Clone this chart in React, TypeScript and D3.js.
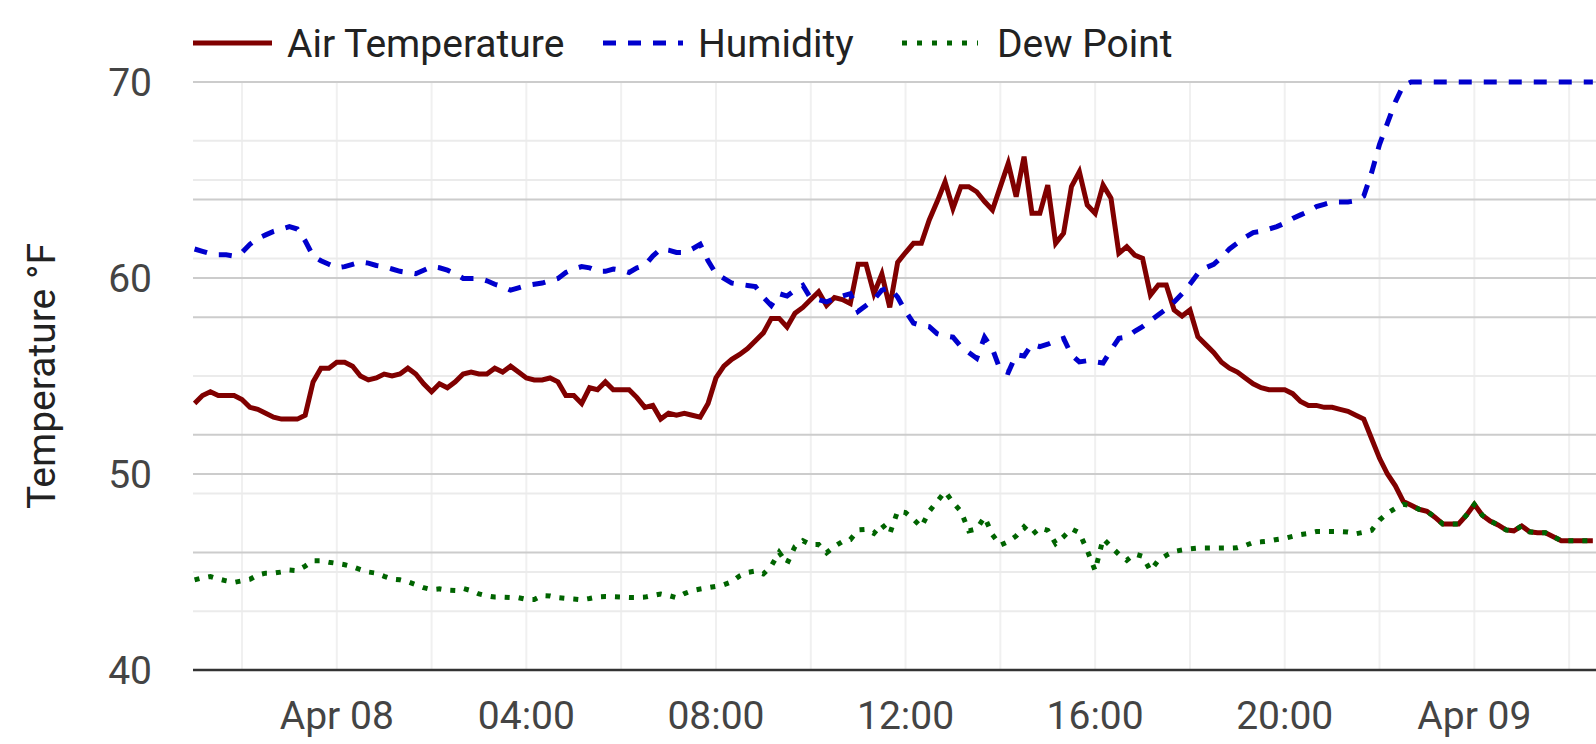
import React from 'react';
import * as d3 from 'd3';

// 10-minute observations starting Apr 7, 21:00
const startTime = new Date(2024, 3, 7, 21, 0);
const stepMinutes = 10;

const airTemp = [
  53.6, 54.0, 54.2, 54.0, 54.0, 54.0, 53.8, 53.4, 53.3, 53.1,
  52.9, 52.8, 52.8, 52.8, 53.0, 54.7, 55.4, 55.4, 55.7, 55.7,
  55.5, 55.0, 54.8, 54.9, 55.1, 55.0, 55.1, 55.4, 55.1, 54.6,
  54.2, 54.6, 54.4, 54.7, 55.1, 55.2, 55.1, 55.1, 55.4, 55.2,
  55.5, 55.2, 54.9, 54.8, 54.8, 54.9, 54.7, 54.0, 54.0, 53.6,
  54.4, 54.3, 54.7, 54.3, 54.3, 54.3, 53.9, 53.4, 53.5, 52.8,
  53.1, 53.0, 53.1, 53.0, 52.9, 53.6, 54.9, 55.5, 55.85, 56.1,
  56.4, 56.8, 57.2, 57.94, 57.94, 57.5, 58.2, 58.5, 58.9, 59.3,
  58.6, 59.0, 58.9, 58.7, 60.7, 60.7, 59.2, 60.2, 58.5, 60.8,
  61.3, 61.77, 61.77, 62.96, 63.9, 64.91, 63.55, 64.66, 64.66, 64.4,
  63.9, 63.47, 64.66, 65.85, 64.15, 66.19, 63.3, 63.3, 64.74, 61.77,
  62.28, 64.66, 65.42, 63.72, 63.3, 64.74, 64.07, 61.26, 61.6, 61.17,
  61.0, 59.13, 59.64, 59.64, 58.37, 58.06, 58.37, 57.0, 56.6, 56.2,
  55.7, 55.4, 55.2, 54.9, 54.6, 54.4, 54.3, 54.3, 54.3, 54.1,
  53.7, 53.5, 53.5, 53.4, 53.4, 53.3, 53.2, 53.0, 52.8, 51.8,
  50.8, 50.0, 49.4, 48.6, 48.4, 48.2, 48.1, 47.8, 47.45, 47.45,
  47.45, 47.9, 48.45, 47.9, 47.6, 47.4, 47.15, 47.1, 47.35, 47.05,
  47.0, 47.0, 46.8, 46.6, 46.6, 46.6, 46.6, 46.6,
];

const humidity = [
  85.8, 85.6, 85.4, 85.3, 85.3, 85.2, 85.5, 86.2, 86.7, 87.0,
  87.3, 87.5, 87.7, 87.5, 86.5, 85.2, 84.8, 84.5, 84.2, 84.3,
  84.5, 84.7, 84.6, 84.4, 84.3, 84.1, 83.9, 83.8, 83.7, 84.0,
  84.3, 84.2, 84.0, 83.7, 83.3, 83.3, 83.3, 83.1, 82.8, 82.6,
  82.3, 82.5, 82.7, 82.8, 82.9, 83.1, 83.3, 83.8, 84.1, 84.3,
  84.2, 83.9, 83.9, 84.1, 84.0, 83.8, 84.2, 84.4, 85.2, 85.8,
  85.7, 85.5, 85.5, 85.8, 86.2, 84.8, 83.7, 83.3, 82.9, 82.8,
  82.7, 82.6, 81.7, 81.0, 82.0, 81.8, 82.3, 82.7, 81.6, 81.5,
  81.3, 81.6, 81.8, 82.0, 80.5, 81.0, 81.5, 82.3, 82.5, 81.7,
  80.5, 79.5, 79.3, 79.2, 78.6, 78.4, 78.3, 77.5, 77.0, 76.5,
  78.3, 77.3, 75.5, 75.3, 76.8, 76.7, 77.7, 77.5, 77.7, 78.0,
  78.2, 76.8, 76.2, 76.3, 76.2, 76.1, 77.2, 78.2, 78.3, 78.8,
  79.2, 79.7, 80.2, 80.7, 81.3, 82.0, 82.8, 83.7, 84.2, 84.5,
  85.1, 85.8, 86.3, 86.8, 87.2, 87.3, 87.5, 87.7, 88.0, 88.4,
  88.7, 89.0, 89.4, 89.6, 89.8, 89.8, 89.8, 89.9, 90.3, 92.3,
  94.7, 96.5, 98.3, 99.7, 100, 100, 100, 100, 100, 100,
  100, 100, 100, 100, 100, 100, 100, 100, 100, 100,
  100, 100, 100, 100, 100, 100, 100, 100,
];

const dewPoint = [
  44.6, 44.7, 44.77, 44.65, 44.55, 44.47, 44.55, 44.63, 44.85, 44.94,
  44.94, 45.0, 45.1, 45.07, 45.3, 45.58, 45.58, 45.5, 45.44, 45.37,
  45.27, 45.12, 45.0, 44.94, 44.78, 44.64, 44.6, 44.5, 44.35, 44.2,
  44.1, 44.14, 44.07, 44.05, 44.16, 44.05, 43.88, 43.78, 43.72, 43.72,
  43.7, 43.69, 43.6, 43.6, 43.8, 43.78, 43.69, 43.65, 43.62, 43.58,
  43.65, 43.73, 43.75, 43.74, 43.72, 43.7, 43.7, 43.72, 43.8, 43.88,
  43.8, 43.69, 43.9, 44.05, 44.13, 44.2, 44.27, 44.35, 44.5, 44.8,
  44.98, 45.05, 44.9, 45.3, 46.0, 45.43, 46.3, 46.6, 46.4, 46.4,
  45.98, 46.3, 46.55, 46.65, 47.15, 47.18, 46.97, 47.44, 46.95, 48.1,
  48.03, 47.69, 47.3, 48.1, 48.6, 49.1, 48.55, 48.1, 47.1, 47.2,
  47.8, 46.9, 46.37, 46.55, 46.84, 47.3, 46.9, 47.25, 47.13, 46.45,
  46.8, 47.2, 47.0, 46.1, 45.07, 46.7, 46.3, 45.9, 45.6, 45.92,
  45.8, 45.07, 45.6, 45.85, 46.05, 46.12, 46.18, 46.22, 46.22, 46.22,
  46.22, 46.22, 46.24, 46.35, 46.51, 46.54, 46.58, 46.66, 46.72, 46.82,
  46.91, 46.97, 47.06, 47.06, 47.06, 47.06, 47.04, 46.95, 47.03, 47.13,
  47.65, 48.0, 48.25, 48.45, 48.4, 48.2, 48.1, 47.8, 47.45, 47.45,
  47.45, 47.9, 48.45, 47.9, 47.6, 47.4, 47.15, 47.1, 47.35, 47.05,
  47.0, 47.0, 46.8, 46.6, 46.6, 46.6, 46.6, 46.6,
];

const tempMajorTicks = [40, 50, 60, 70];
const tempMinorTicks = [45, 55, 65];
const humidityMajorTicks = [60, 70, 80, 90];
const humidityMinorTicks = [55, 65, 75, 85, 95];
const xTickLabels = ['Apr 08', '04:00', '08:00', '12:00', '16:00', '20:00', 'Apr 09'];

const seriesNames = ['Air Temperature', 'Humidity', 'Dew Point'];
const seriesColors = ['#800000', '#0000cd', '#006400'];

const FONT = 'Roboto, "Noto Sans", sans-serif';

export default function App() {
  const W = 1596;
  const H = 744;
  const left = 193;
  const right = 1596;
  const top = 82;
  const bottom = 670;

  const times = airTemp.map((_, i) => d3.timeMinute.offset(startTime, i * stepMinutes));

  const x = d3
    .scaleTime()
    .domain([new Date(2024, 3, 7, 20, 58), new Date(2024, 3, 9, 2, 34)])
    .range([left, right]);
  const yT = d3.scaleLinear().domain([40, 70]).range([bottom, top]);
  const yH = d3.scaleLinear().domain([50, 100]).range([bottom, top]);

  const [d0, d1] = x.domain();
  const grid2h = d3.timeHour.every(2)!.range(d0, d1);
  const ticks4h = d3.timeHour.every(4)!.range(d0, d1);

  const tempLine = d3
    .line<number>()
    .x((_, i) => x(times[i]))
    .y((v) => yT(v));
  const humLine = d3
    .line<number>()
    .x((_, i) => x(times[i]))
    .y((v) => yH(v));

  const lightGrid = '#ebebeb';
  const majorGrid = '#cccccc';

  return (
    <svg
      width={W}
      height={H}
      style={{ position: 'absolute', left: 0, top: 0, background: '#fff' }}
      fontFamily={FONT}
    >
      <defs>
        <clipPath id="plotClip">
          <rect x={left} y={0} width={right - left} height={H} />
        </clipPath>
      </defs>

      {/* vertical grid */}
      {grid2h.map((d, i) => (
        <line key={'v' + i} x1={x(d)} x2={x(d)} y1={top} y2={bottom} stroke="#f0f0f0" strokeWidth={2} />
      ))}

      {/* minor horizontal grid */}
      {tempMinorTicks.map((v) => (
        <line key={'tm' + v} x1={left} x2={right} y1={yT(v)} y2={yT(v)} stroke={lightGrid} strokeWidth={2} />
      ))}
      {humidityMinorTicks.map((v) => (
        <line key={'hm' + v} x1={left} x2={right} y1={yH(v)} y2={yH(v)} stroke={lightGrid} strokeWidth={2} />
      ))}
      {/* major horizontal grid */}
      {humidityMajorTicks.map((v) => (
        <line key={'hM' + v} x1={left} x2={right} y1={yH(v)} y2={yH(v)} stroke={majorGrid} strokeWidth={2} />
      ))}
      {tempMajorTicks
        .filter((v) => v !== 40)
        .map((v) => (
          <line key={'tM' + v} x1={left} x2={right} y1={yT(v)} y2={yT(v)} stroke={majorGrid} strokeWidth={2} />
        ))}

      {/* x axis baseline */}
      <line x1={left} x2={right} y1={bottom} y2={bottom} stroke="#333333" strokeWidth={2.5} />

      {/* y tick labels */}
      {tempMajorTicks.map((v) => (
        <text key={'yl' + v} x={152} y={yT(v) + 14} textAnchor="end" fontSize={39} fill="#444444">
          {v}
        </text>
      ))}

      {/* x tick labels */}
      {ticks4h.map((d, i) => (
        <text key={'xl' + i} x={x(d)} y={729} textAnchor="middle" fontSize={39} fill="#444444">
          {xTickLabels[i]}
        </text>
      ))}

      {/* y axis title */}
      <text transform={`translate(55,${(top + bottom) / 2}) rotate(-90)`} textAnchor="middle" fontSize={39} fill="#222222">
        Temperature °F
      </text>

      {/* series */}
      <g clipPath="url(#plotClip)">
        <path d={tempLine(airTemp) || ''} fill="none" stroke={seriesColors[0]} strokeWidth={5} />
        <path d={humLine(humidity) || ''} fill="none" stroke={seriesColors[1]} strokeWidth={5} strokeDasharray="13,12" />
        <path d={tempLine(dewPoint) || ''} fill="none" stroke={seriesColors[2]} strokeWidth={5} strokeDasharray="5,9" />
      </g>

      {/* legend */}
      <g>
        <line x1={193} x2={272} y1={43} y2={43} stroke={seriesColors[0]} strokeWidth={5} />
        <text x={287} y={57} fontSize={39} fill="#222222">{seriesNames[0]}</text>
        <line x1={603} x2={683} y1={43} y2={43} stroke={seriesColors[1]} strokeWidth={5} strokeDasharray="13,12" />
        <text x={698} y={57} fontSize={39} fill="#222222">{seriesNames[1]}</text>
        <line x1={902} x2={978} y1={43} y2={43} stroke={seriesColors[2]} strokeWidth={5} strokeDasharray="5,10" />
        <text x={997} y={57} fontSize={39} fill="#222222">{seriesNames[2]}</text>
      </g>
    </svg>
  );
}
